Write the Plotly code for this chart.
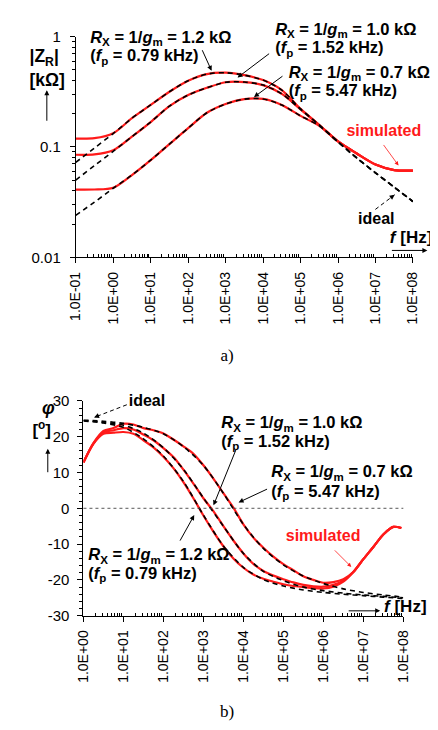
import plotly.graph_objects as go

# ---------------- DATA ----------------
# top chart: |Z_R| in kOhm, frequency exponents (log10 f)
MAG_F_EXP = [-1, -0.5, 0, 0.5, 1, 1.5, 2, 2.5, 3, 3.5, 4, 4.5, 5, 5.5, 6, 6.5, 7, 7.5, 8]
MAG_IDEAL_12 = [0.0724, 0.0977, 0.132, 0.182, 0.240, 0.316, 0.398, 0.457, 0.470, 0.447,
                0.403, 0.327, 0.221, 0.158, 0.111, 0.0794, 0.0582, 0.0432, 0.0320]
MAG_IDEAL_10 = [0.0501, 0.0676, 0.0912, 0.124, 0.168, 0.234, 0.295, 0.343, 0.385, 0.387,
                0.363, 0.302, 0.219, 0.158, 0.111, 0.0794, 0.0582, 0.0432, 0.0320]
MAG_IDEAL_07 = [0.0240, 0.0316, 0.0422, 0.0556, 0.0759, 0.106, 0.148, 0.204, 0.245, 0.271,
                0.272, 0.240, 0.191, 0.155, 0.111, 0.0794, 0.0582, 0.0432, 0.0320]
MAG_SIM_12 = [0.119, 0.120, 0.133, 0.182, 0.240, 0.316, 0.398, 0.457, 0.470, 0.447,
              0.403, 0.327, 0.221, 0.158, 0.112, 0.0871, 0.0692, 0.0617, 0.0610]
MAG_SIM_10 = [0.0849, 0.0855, 0.0933, 0.124, 0.168, 0.234, 0.295, 0.343, 0.385, 0.387,
              0.363, 0.302, 0.219, 0.158, 0.112, 0.0871, 0.0692, 0.0617, 0.0610]
MAG_SIM_07 = [0.0410, 0.0411, 0.0427, 0.0556, 0.0759, 0.106, 0.148, 0.204, 0.245, 0.271,
              0.272, 0.240, 0.191, 0.155, 0.112, 0.0871, 0.0692, 0.0617, 0.0610]

# bottom chart: phase in degrees
PH_SIM_F_EXP = [0, 0.25, 0.5, 0.75, 1, 1.25, 1.5, 1.75, 2, 2.25, 2.5, 2.75, 3, 3.25, 3.5, 3.75,
                4, 4.25, 4.5, 4.75, 5, 5.25, 5.5, 5.75, 6, 6.25, 6.5, 6.75, 7, 7.25, 7.5, 7.75, 7.95]
PH_SIM_12 = [12.8, 18.0, 20.8, 21.1, 21.3, 20.8, 19.0, 17.0, 14.4, 11.2, 7.3, 2.8, -2.0, -6.5,
             -10.6, -14.0, -16.6, -18.5, -19.7, -20.5, -21.2, -21.7, -22.0, -22.3, -22.4, -21.9,
             -20.5, -17.8, -14.2, -10.8, -7.3, -5.2, -5.5]
PH_SIM_10 = [12.8, 18.1, 21.2, 21.8, 22.4, 22.0, 20.6, 19.0, 16.8, 14.3, 10.8, 6.9, 2.8, -0.8,
             -5.0, -9.0, -12.6, -15.5, -17.5, -18.8, -19.8, -20.7, -21.4, -21.8, -21.9, -21.4,
             -20.2, -17.8, -14.2, -10.8, -7.3, -5.2, -5.5]
PH_SIM_07 = [12.8, 18.2, 21.6, 22.4, 23.6, 23.4, 22.4, 21.8, 20.9, 19.2, 17.3, 15.2, 12.0, 8.3,
             4.2, 0.2, -4.5, -8.2, -11.0, -13.5, -15.6, -17.3, -19.0, -20.0, -20.8, -20.6,
             -19.8, -17.8, -14.2, -10.8, -7.3, -5.2, -5.5]
PH_IDEAL_F_EXP = [0, 0.5, 1, 1.5, 2, 2.5, 3, 3.5, 4, 4.5, 5, 5.5, 6, 6.5, 7, 7.5, 8]
PH_IDEAL_12 = [24.4, 23.8, 22.6, 19.4, 14.6, 7.5, -1.9, -10.5, -16.5, -19.9, -21.7, -22.8,
               -23.5, -24.0, -24.4, -24.8, -25.2]
PH_IDEAL_10 = [24.5, 24.0, 23.2, 21.0, 16.9, 10.9, 2.9, -5.0, -12.6, -17.6, -20.2, -22.0,
               -23.0, -23.7, -24.2, -24.6, -25.0]
PH_IDEAL_07 = [24.6, 24.3, 23.7, 22.6, 20.8, 17.2, 12.0, 4.2, -4.5, -11.2, -15.8, -18.9,
               -21.0, -22.5, -23.5, -24.2, -24.8]

TOP_XTICK_EXP = [-1, 0, 1, 2, 3, 4, 5, 6, 7, 8]
TOP_XTICK_TEXT = ["1.0E-01", "1.0E+00", "1.0E+01", "1.0E+02", "1.0E+03",
                  "1.0E+04", "1.0E+05", "1.0E+06", "1.0E+07", "1.0E+08"]
BOT_XTICK_EXP = [0, 1, 2, 3, 4, 5, 6, 7, 8]
BOT_XTICK_TEXT = ["1.0E+00", "1.0E+01", "1.0E+02", "1.0E+03",
                  "1.0E+04", "1.0E+05", "1.0E+06", "1.0E+07", "1.0E+08"]
TOP_YTICK_VALS = [0.01, 0.1, 1]
TOP_YTICK_TEXT = ["0.01", "0.1", "1"]
BOT_YTICK_VALS = [30, 20, 10, 0, -10, -20, -30]
BOT_YTICK_TEXT = ["30", "20", "10", "0", "-10", "-20", "-30"]

# ---------------- FIGURE ----------------
W, H = 438, 730
FONT = "Liberation Sans, Arial, sans-serif"
SERIF = "Liberation Serif, Times New Roman, serif"
RED = "#ff1a1a"


def px(x):
    return x / W


def py(y):
    return 1 - y / H


def freqs(exps):
    return [10 ** e for e in exps]


fig = go.Figure()

sim_line = dict(color=RED, width=2.2, shape="spline", smoothing=0.8)
ideal_line = dict(color="black", width=1.6, dash="5px,4px", shape="spline", smoothing=0.8)

fm = freqs(MAG_F_EXP)
for s in (MAG_SIM_12, MAG_SIM_10, MAG_SIM_07):
    fig.add_trace(go.Scatter(x=fm, y=s, mode="lines", line=sim_line, xaxis="x", yaxis="y"))
for s in (MAG_IDEAL_12, MAG_IDEAL_10, MAG_IDEAL_07):
    fig.add_trace(go.Scatter(x=fm, y=s, mode="lines", line=ideal_line, xaxis="x", yaxis="y"))

fps = freqs(PH_SIM_F_EXP)
fpi = freqs(PH_IDEAL_F_EXP)
for s in (PH_SIM_12, PH_SIM_10, PH_SIM_07):
    fig.add_trace(go.Scatter(x=fps, y=s, mode="lines", line=sim_line, xaxis="x2", yaxis="y2"))
for s in (PH_IDEAL_12, PH_IDEAL_10, PH_IDEAL_07):
    fig.add_trace(go.Scatter(x=fpi, y=s, mode="lines", line=ideal_line, xaxis="x2", yaxis="y2"))

tickfont_x = dict(family=FONT, size=14, color="black")
tickfont_y = dict(family=FONT, size=15, color="black")

top_minor_x = [m * 10 ** e for e in range(-1, 8) for m in range(2, 10)]
top_minor_y = [m * 10 ** e for e in range(-2, 0) for m in range(2, 10)]
bot_minor_x = [m * 10 ** e for e in range(0, 8) for m in range(2, 10)]

axis_common = dict(showline=True, linecolor="black", linewidth=1, showgrid=False,
                   zeroline=False, ticks="outside", tickcolor="black", ticklen=5,
                   tickwidth=1)

fig.update_layout(
    width=W, height=H, margin=dict(l=0, r=0, t=0, b=0),
    paper_bgcolor="white", plot_bgcolor="rgba(0,0,0,0)", showlegend=False,
    font=dict(family=FONT, color="black"),
    xaxis=dict(domain=[px(62), px(412)], type="log", range=[-1, 8], anchor="y",
               tickmode="array", tickvals=freqs(TOP_XTICK_EXP), ticktext=TOP_XTICK_TEXT,
               tickangle=-90, tickfont=tickfont_x, ticklabelstandoff=3,
               minor=dict(tickmode="array", tickvals=top_minor_x, ticks="inside",
                          ticklen=3, tickcolor="black", showgrid=False),
               **axis_common),
    yaxis=dict(domain=[py(246), py(20)], type="log", range=[-2, 0], anchor="x",
               tickmode="array", tickvals=TOP_YTICK_VALS, ticktext=TOP_YTICK_TEXT,
               tickfont=tickfont_y, ticklabelstandoff=6,
               minor=dict(tickmode="array", tickvals=top_minor_y, ticks="outside",
                          ticklen=3, tickcolor="black", showgrid=False),
               **axis_common),
    xaxis2=dict(domain=[px(70), px(402)], type="log", range=[0, 8], anchor="y2",
                tickmode="array", tickvals=freqs(BOT_XTICK_EXP), ticktext=BOT_XTICK_TEXT,
                tickangle=-90, tickfont=tickfont_x, ticklabelstandoff=3,
                minor=dict(tickmode="array", tickvals=bot_minor_x, ticks="inside",
                           ticklen=3, tickcolor="black", showgrid=False),
                **axis_common),
    yaxis2=dict(domain=[py(613), py(393)], range=[-30, 30], anchor="x2",
                tickmode="array", tickvals=BOT_YTICK_VALS, ticktext=BOT_YTICK_TEXT,
                tickfont=tickfont_y, ticklabelstandoff=5,
                minor=dict(dtick=2, ticks="outside", ticklen=3, tickcolor="black",
                           showgrid=False),
                **axis_common),
    # full-page overlay in pixel units, used only to place the labels
    xaxis3=dict(domain=[0, 1], range=[0, W], visible=False, anchor="y3", fixedrange=True),
    yaxis3=dict(domain=[0, 1], range=[H, 0], visible=False, anchor="x3", fixedrange=True),
)

# zero line in phase plot
fig.add_shape(type="line", xref="x2 domain", x0=0, x1=1, yref="y2", y0=0, y1=0,
              line=dict(color="#444444", width=0.9, dash="3px,3px"))

annotations = []


def text(x, y, t, size=16.5, color="black", pos="middle right", family=FONT):
    fig.add_trace(go.Scatter(x=[x], y=[y], text=[t], mode="text", textposition=pos,
                             textfont=dict(family=family, size=size, color=color),
                             xaxis="x3", yaxis="y3", cliponaxis=False, hoverinfo="skip"))


def arrow(x0, y0, x1, y1, color="black", width=1, size=1.0):
    annotations.append(dict(x=px(x1), y=py(y1), xref="paper", yref="paper",
                            ax=x0 - x1, ay=y0 - y1, axref="pixel", ayref="pixel",
                            text="", showarrow=True, arrowhead=2, arrowsize=size,
                            arrowwidth=width, arrowcolor=color))


def dashed_arrow(x0, y0, x1, y1):
    fig.add_shape(type="line", xref="paper", yref="paper", x0=px(x0), y0=py(y0),
                  x1=px(x1), y1=py(y1), line=dict(color="black", width=1, dash="4px,3px"))
    dx, dy = x0 - x1, y0 - y1
    L = (dx * dx + dy * dy) ** 0.5
    annotations.append(dict(x=px(x1), y=py(y1), xref="paper", yref="paper",
                            ax=dx / L * 7, ay=dy / L * 7, axref="pixel", ayref="pixel",
                            text="", showarrow=True, arrowhead=2, arrowsize=1.0,
                            arrowwidth=1, arrowcolor="black"))


def rx(v):
    return "<b><i>R</i><sub>X</sub> = 1/<i>g</i><sub>m</sub> = %s k\u03a9</b>" % v


def fp(v):
    return "<b>(<i>f</i><sub>p</sub> = %s kHz)</b>" % v


# ---- top chart labels ----
text(77, 22, rx("1.2"))
text(77, 41, fp("0.79"))
text(269, 14, rx("1.0"))
text(269, 33, fp("1.52"))
text(283, 58, rx("0.7"))
text(283, 77, fp("5.47"))
arrow(193, 33, 203, 55)
arrow(263, 37, 230, 62)
arrow(277, 60, 247, 82)
text(343, 118, "<b>simulated</b>", size=16, color=RED)
arrow(381, 130, 397, 152, color=RED, width=0.8)
text(355, 208, "<b>ideal</b>", size=16)
dashed_arrow(373, 197, 393, 182)
text(14, 42, "<b>|Z<sub>R</sub>|</b>", size=17.5)
text(14, 66, "<b>[k\u03a9]</b>", size=17.5)
arrow(32, 107, 32, 75)
text(388, 227, "<b><i>f</i> [Hz]</b>", size=17)
arrow(390, 239, 427, 239)
text(219, 348, "a)", size=17, pos="middle center", family=SERIF)

# ---- bottom chart labels ----
text(27, 402, "<b><i>\u03c6</i></b>", size=18)
text(17, 425, "<b>[<sup>o</sup>]</b>", size=17)
arrow(33, 467, 33, 442)
text(117, 394, "<b>ideal</b>", size=16)
dashed_arrow(115, 397, 81, 410)
text(213, 417, rx("1.0"))
text(213, 436, fp("1.52"))
arrow(228, 443, 205, 500)
text(265, 467, rx("0.7"))
text(265, 487, fp("5.47"))
arrow(261, 483, 231, 497)
text(75, 552, rx("1.2"))
text(75, 571, fp("0.79"))
arrow(170, 537, 185, 510)
text(280, 532, "<b>simulated</b>", size=16, color=RED)
arrow(330, 545, 348, 563, color=RED, width=0.8)
text(382, 605, "<b><i>f</i> [Hz]</b>", size=17)
arrow(345, 608, 378, 608)
text(219, 712, "b)", size=17, pos="middle center", family=SERIF)

fig.update_layout(annotations=annotations)
fig.write_html("out.html")
